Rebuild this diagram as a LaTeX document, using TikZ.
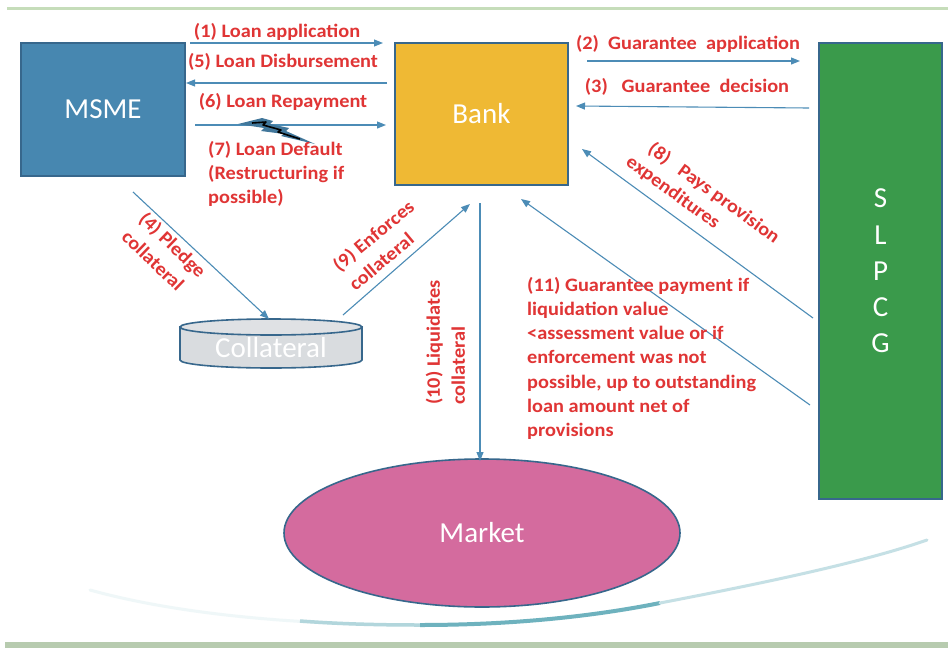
\documentclass[tikz,border=0pt]{standalone}
\usepackage{fontspec}
\setmainfont{Carlito}
\newfontfamily\lblfont[FakeStretch=1.07]{Carlito}
\usetikzlibrary{arrows.meta,shapes.geometric}
\definecolor{msmeblue}{HTML}{4787B0}
\definecolor{boxedge}{HTML}{37678C}
\definecolor{bankgold}{HTML}{EFB934}
\definecolor{slgreen}{HTML}{3A9A4B}
\definecolor{mktpink}{HTML}{D46B9E}
\definecolor{lblred}{HTML}{E03535}
\definecolor{arrblue}{HTML}{4C8CB6}
\definecolor{collgrey}{HTML}{D9DCDF}
\definecolor{topline}{HTML}{C6DDBA}
\definecolor{botband}{HTML}{B7CBAF}
\definecolor{swoosh}{HTML}{3E98A8}
\tikzset{
  entity/.style={draw=boxedge, line width=1.6pt, text=white, font=\fontsize{29}{34}\selectfont, inner sep=0pt},
  flow/.style={draw=arrblue, line width=1.1pt, -{Triangle[length=9pt,width=7pt]}},
  lbl/.style={text=lblred, font=\lblfont\bfseries\fontsize{19}{24}\selectfont, inner sep=0pt},
}
\begin{document}
\begin{tikzpicture}[x=1pt,y=-1pt]
\useasboundingbox (0,0) rectangle (948,648);
\fill[white] (0,0) rectangle (948,648);
% frame lines
\fill[topline] (7,7) rectangle (948,9.5);
\fill[botband] (5,642) rectangle (948,648);
% swoosh
\draw[swoosh!8, line width=3pt, line cap=round] (90,590) .. controls (180,615) and (300,625) .. (420,625);
\draw[swoosh!40, line width=3.5pt] (300,621) .. controls (340,624) and (380,625) .. (420,625);
\draw[swoosh!75, line width=4pt] (420,625) .. controls (520,625) and (600,615) .. (660,603);
\draw[swoosh!30, line width=3pt, line cap=round] (660,603) .. controls (780,580) and (870,560) .. (927,540);

% entities
\node[entity, fill=msmeblue, minimum width=164pt, minimum height=133pt] (msme) at (103,109.5) {MSME};
\node[entity, fill=bankgold, minimum width=173pt, minimum height=142pt] (bank) at (481.5,114) {Bank};
\node[entity, fill=slgreen, minimum width=123pt, minimum height=456pt, align=center,
      font=\fontsize{29}{36.2}\selectfont] (slpcg) at (880.5,271) {S\\L\\P\\C\\G};
\node[entity, fill=mktpink, ellipse, minimum width=396pt, minimum height=148pt] (market) at (482,533) {Market};

% collateral cylinder
\path[fill=collgrey, draw=boxedge, line width=1.6pt] (180,327) -- (180,360)
  arc[start angle=180, end angle=360, x radius=91pt, y radius=8pt] -- (362,327) -- cycle;
\draw[fill=collgrey!85!white, draw=boxedge, line width=1.6pt] (271,327) ellipse [x radius=91pt, y radius=8pt];
\node[text=white, font=\fontsize{29}{34}\selectfont, inner sep=0pt] (coll) at (271,348) {Collateral};

% connector end points
\coordinate (a1s) at (190,43);  \coordinate (a1e) at (383,43);
\coordinate (a5s) at (387,83);  \coordinate (a5e) at (186,83);
\coordinate (a6s) at (195,125); \coordinate (a6e) at (386,125);
\coordinate (a2s) at (587,61);  \coordinate (a2e) at (800,61);
\coordinate (a3s) at (809,108); \coordinate (a3e) at (576,106);
\coordinate (a8s) at (813,318); \coordinate (a8e) at (582,149);
\coordinate (a11s) at (810,405); \coordinate (a11e) at (521,199);
\coordinate (a4s) at (133,192); \coordinate (a4e) at (269,319);
\coordinate (a9s) at (343,315); \coordinate (a9e) at (470,204);
\coordinate (a10s) at (480,203); \coordinate (a10e) at (480,461);

\draw[flow] (a1s) -- (a1e);
\draw[flow] (a5s) -- (a5e);
\draw[flow] (a6s) -- (a6e);
\draw[flow] (a2s) -- (a2e);
\draw[flow] (a3s) -- (a3e);
\draw[flow] (a8s) -- (a8e);
\draw[flow] (a11s) -- (a11e);
\draw[flow] (a4s) -- (a4e);
\draw[flow] (a9s) -- (a9e);
\draw[flow] (a10s) -- (a10e);

% lightning bolt
\fill[arrblue!85!black] (238,124) -- (262,118) -- (273,121) -- (270,124) -- (289,128) -- (286,131)
  -- (315,144) -- (281,136) -- (284,134) -- (261,131) -- (264,128) -- cycle;
\draw[black, line width=1.6pt, line join=round] (252,123) -- (266,122) -- (263,125) -- (281,130) -- (278,132) -- (300,139);

% labels
\node[lbl] (l1) at (277,32) {(1) Loan application};
\node[lbl] (l5) at (283,62) {(5) Loan Disbursement};
\node[lbl] (l6) at (283,102) {(6) Loan Repayment};
\node[lbl, anchor=north west, align=left] (l7) at (208,141) {(7) Loan Default\\(Restructuring if\\possible)};
\node[lbl] (l2) at (688,44) {(2)\ \ Guarantee\ \ application};
\node[lbl] (l3) at (687,87) {(3)\ \ \ Guarantee\ \ decision};
\node[lbl, rotate=-36, anchor=west, align=left, font=\lblfont\bfseries\fontsize{19}{23.5}\selectfont] (l8) at (635,150.5)
  {\hspace*{10pt}(8)\ \ \ Pays provision\\expenditures};
\node[lbl, rotate=-44, anchor=west, align=left, font=\lblfont\bfseries\fontsize{19}{25}\selectfont] (l4) at (134,224)
  {(4) Pledge\\collateral};
\node[lbl, rotate=40, anchor=west, align=left, font=\lblfont\bfseries\fontsize{19}{25}\selectfont] (l9) at (343,277)
  {(9) Enforces\\collateral};
\node[lbl, rotate=90, anchor=west, align=left, font=\lblfont\bfseries\fontsize{19}{25}\selectfont] (l10) at (445.5,405)
  {(10) Liquidates\\collateral};
\node[lbl, anchor=north west, align=left, font=\lblfont\bfseries\fontsize{19}{24.2}\selectfont] (l11) at (527,277)
  {(11) Guarantee payment if\\liquidation value\\<assessment value or if\\enforcement was not\\possible, up to outstanding\\loan amount net of\\provisions};
\end{tikzpicture}
\end{document}
